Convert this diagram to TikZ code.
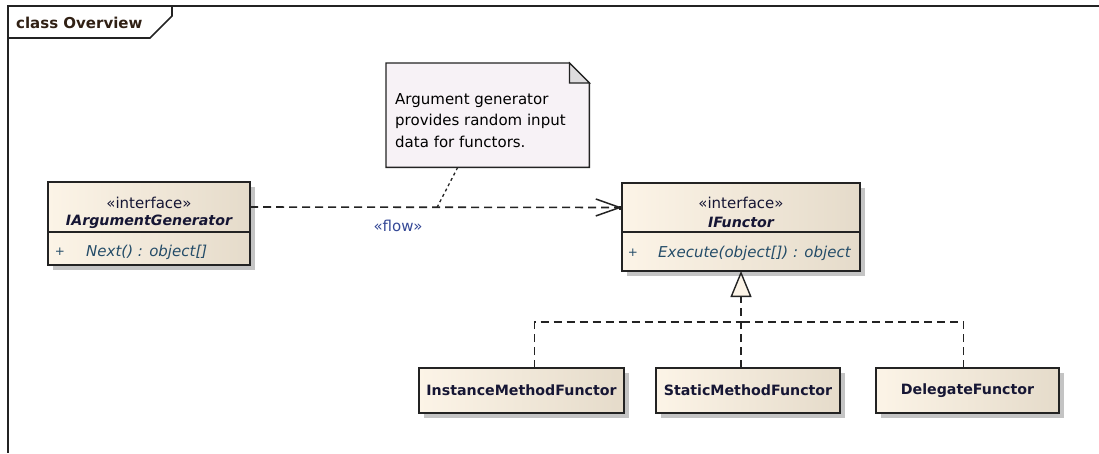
\documentclass[tikz,border=0pt]{standalone}
\usepackage{fontspec}
\setmainfont{DejaVu Sans}
\usetikzlibrary{arrows.meta,positioning,backgrounds}

\definecolor{boxlight}{RGB}{252,244,231}
\definecolor{boxdark}{RGB}{229,219,202}
\definecolor{notefill}{RGB}{247,242,246}
\definecolor{foldfill}{RGB}{222,220,222}
\definecolor{opcolor}{RGB}{36,76,104}
\definecolor{namecolor}{RGB}{22,22,52}
\definecolor{flowcolor}{RGB}{52,72,150}
\definecolor{titlecolor}{RGB}{48,32,20}
\definecolor{linecol}{RGB}{35,35,35}
\definecolor{shadowcol}{RGB}{196,196,196}

\begin{document}
\begin{tikzpicture}[x=1pt,y=-1pt,
  classbox/.style={draw=linecol,line width=1.5pt,left color=boxlight,right color=boxdark,inner sep=0pt,outer sep=0pt},
  stereo/.style={font=\fontsize{15}{18}\selectfont,text=namecolor,inner sep=0pt},
  ifname/.style={font=\fontsize{14.2}{17}\selectfont\bfseries\itshape,text=namecolor,inner sep=0pt},
  clname/.style={font=\fontsize{14.2}{17}\selectfont\bfseries,text=namecolor},
  optext/.style={font=\fontsize{15}{18}\selectfont\itshape,text=opcolor,inner sep=0pt,anchor=west},
  opsign/.style={font=\fontsize{12}{14}\selectfont,text=opcolor,inner sep=0pt},
  frame/.style={draw=linecol,line width=1.6pt},
  flow/.style={draw=linecol,line width=1.6pt,dash pattern=on 8pt off 5pt},
  realize/.style={draw=linecol,line width=1.6pt,dash pattern=on 8pt off 5pt},
  notelink/.style={draw=linecol,line width=1.3pt,dash pattern=on 3pt off 3pt}]

\useasboundingbox (0,0) rectangle (1099,453);

% diagram frame and its name tab
\draw[frame] (1099,6) -- (8,6) -- (8,453);
\draw[frame] (8,38) -- (150,38) -- (172,16) -- (172,6);
\node[font=\fontsize{15}{18}\selectfont\bfseries,text=titlecolor,anchor=west,inner sep=0pt] (title) at (16,23) {class Overview};

% interfaces
\node[classbox,minimum width=202pt,minimum height=50pt,anchor=north west] (iaghead) at (48,182) {};
\node[classbox,minimum width=202pt,minimum height=33pt,anchor=north west] (iagops) at (iaghead.south west) {};
\node[stereo] (iagst) at ([yshift=-21pt]iaghead.north) {«interface»};
\node[ifname] (iagname) at ([yshift=-40pt]iaghead.north) {IArgumentGenerator};
\node[opsign] (iagplus) at ([xshift=12pt,yshift=-20pt]iagops.north west) {+};
\node[optext] (iagop) at ([xshift=38pt,yshift=-20pt]iagops.north west) {Next() : object[]};

\node[classbox,minimum width=238pt,minimum height=49pt,anchor=north west] (ifhead) at (622,183) {};
\node[classbox,minimum width=238pt,minimum height=39pt,anchor=north west] (ifops) at (ifhead.south west) {};
\node[stereo] (ifst) at ([yshift=-20pt]ifhead.north) {«interface»};
\node[ifname] (ifname) at ([yshift=-39pt]ifhead.north) {IFunctor};
\node[opsign] (ifplus) at ([xshift=11pt,yshift=-21pt]ifops.north west) {+};
\node[optext] (ifop) at ([xshift=36pt,yshift=-21pt]ifops.north west) {Execute(object[]) : object};

% implementations
\node[classbox,clname,minimum width=205pt,minimum height=45pt,anchor=north west] (imf) at (419,368) {InstanceMethodFunctor};
\node[classbox,clname,minimum width=184pt,minimum height=45pt,anchor=north west] (smf) at (656,368) {StaticMethodFunctor};
\node[classbox,clname,minimum width=183pt,minimum height=45pt,anchor=north west] (dgf) at (876,368) {DelegateFunctor};

\begin{scope}[on background layer]
\foreach \a/\b in {iaghead/iagops,ifhead/ifops,imf/imf,smf/smf,dgf/dgf}
  \fill[shadowcol] ([shift={(5pt,-5pt)}]\a.north west) rectangle ([shift={(5pt,-5pt)}]\b.south east);
\end{scope}

% note
\node[minimum width=203pt,minimum height=104pt,anchor=north west,inner sep=0pt] (note) at (386,63) {};
\draw[draw=linecol,line width=1.4pt,fill=notefill] (note.north west) -- ([xshift=-20pt]note.north east) -- ([yshift=-20pt]note.north east) -- (note.south east) -- (note.south west) -- cycle;
\draw[draw=linecol,line width=1.2pt,fill=foldfill] ([xshift=-20pt]note.north east) |- ([yshift=-20pt]note.north east) -- cycle;
\node[font=\fontsize{15}{21.5}\selectfont,align=left,anchor=north west,inner sep=0pt] (notetext) at (395,93) {Argument generator\\provides random input\\data for functors.};

% flow
\draw[flow,-{Straight Barb[length=24pt,width=17pt,line width=1.5pt]}] (iaghead.east) -- (ifhead.west)
  coordinate[pos=0.503] (flowmid)
  node[pos=0.398,yshift=-19pt,font=\fontsize{15}{18}\selectfont,text=flowcolor] (flowlbl) {«flow»};
\fill[linecol] ([xshift=-3pt,yshift=-2pt]ifhead.west) rectangle ([yshift=2pt]ifhead.west);
\draw[notelink] ([xshift=-30pt]note.south) -- (flowmid);

% realization
\coordinate (junc) at (ifops.south |- 0,322);
\draw[realize] ([xshift=13pt]imf.north) |- (junc);
\draw[realize] ([xshift=-4pt]dgf.north) |- (junc);
\draw[realize,-{Triangle[length=26pt,width=21pt,line width=1.4pt,fill=boxlight]}] (smf.north -| junc) -- (ifops.south);

\end{tikzpicture}
\end{document}
